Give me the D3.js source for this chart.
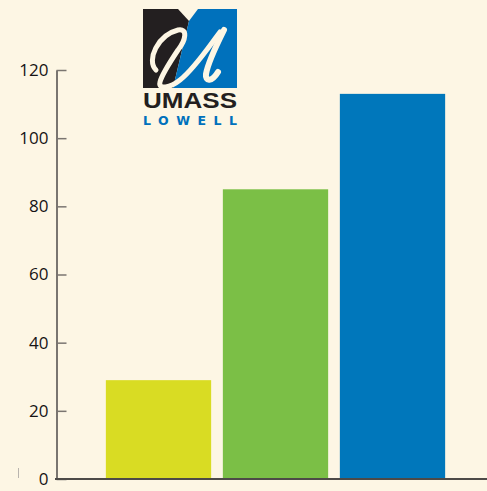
<!DOCTYPE html>
<html>
<head>
<meta charset="utf-8">
<script src="https://cdn.jsdelivr.net/npm/d3@7"></script>
<style>
  html, body { margin: 0; padding: 0; background: #fdf6e4; }
  svg { display: block; }
</style>
</head>
<body>
<script>
// chart values
const categories = ['A', 'B', 'C']
const values = [29, 85, 113]
const barColors = ['#d9dc23', '#7bbf46', '#0077bb']
const yTicks = [0, 20, 40, 60, 80, 100, 120]

const W = 487, H = 491
const svg = d3.select('body').append('svg')
  .attr('width', W)
  .attr('height', H)
  .style('background', '#fdf6e4')

const y = d3.scaleLinear().domain([0, 120]).range([479, 70])
const x = d3.scaleBand().domain(categories).range([100, 451])
  .paddingInner(0.1).paddingOuter(0.05)

// bars
svg.selectAll('rect.bar')
  .data(values)
  .enter()
  .append('rect')
  .attr('class', 'bar')
  .attr('x', (d, i) => x(categories[i]))
  .attr('y', d => y(d))
  .attr('width', x.bandwidth())
  .attr('height', d => y(0) - y(d))
  .attr('fill', (d, i) => barColors[i])

// y axis, ticks pointing into the plot
const yAxis = svg.append('g')
  .attr('transform', 'translate(56.5,0)')
  .call(d3.axisLeft(y).tickValues(yTicks).tickSizeInner(-10).tickSizeOuter(0).tickPadding(8))
yAxis.select('.domain').attr('stroke', '#7a7570').attr('stroke-width', 2)
yAxis.selectAll('.tick line').attr('stroke', '#7a7570').attr('stroke-width', 1.5)
yAxis.selectAll('.tick text')
  .attr('fill', '#161314')
  .style('font-family', '"Open Sans", sans-serif')
  .style('font-size', '17px')

// baseline
svg.append('line')
  .attr('x1', 55).attr('x2', W)
  .attr('y1', y(0)).attr('y2', y(0))
  .attr('stroke', '#4d4a47').attr('stroke-width', 2)

// small stray mark at lower left
svg.append('line')
  .attr('x1', 18.5).attr('x2', 18.5)
  .attr('y1', 468).attr('y2', 478)
  .attr('stroke', '#b9b4ae').attr('stroke-width', 1)

// UMass Lowell logo
const logo = svg.append('g')
logo.append('path')
  .attr('d', 'M143,9 L178,9 L189,21 L173,88 L143,88 Z')
  .attr('fill', '#231f20')
logo.append('path')
  .attr('d', 'M198,9 L237,9 L237,88 L173,88 L189,21 Z')
  .attr('fill', '#0071bc')
// white script "U"
logo.append('path')
  .attr('d', 'M156,70 C146,60 158,35 178,30 C188,28 186,40 178,50 C170,62 162,74 160,82 C158,90 170,88 180,80 C195,68 210,45 220,32')
  .attr('fill', 'none')
  .attr('stroke', '#fdf6e4')
  .attr('stroke-width', 5)
  .attr('stroke-linecap', 'round')
logo.append('path')
  .attr('d', 'M224,30 C216,46 208,62 206,74 C205,82 212,82 218,72')
  .attr('fill', 'none')
  .attr('stroke', '#fdf6e4')
  .attr('stroke-width', 6)
  .attr('stroke-linecap', 'round')
logo.append('text')
  .attr('x', 143).attr('y', 108)
  .attr('textLength', 94).attr('lengthAdjust', 'spacingAndGlyphs')
  .style('font-family', '"Liberation Sans Narrow", "Liberation Sans", sans-serif')
  .style('font-weight', 'bold')
  .style('font-size', '22px')
  .attr('fill', '#231f20')
  .text('UMASS')
logo.append('text')
  .attr('x', 143).attr('y', 125)
  .attr('textLength', 94).attr('lengthAdjust', 'spacing')
  .style('font-family', '"DejaVu Sans", sans-serif')
  .style('font-weight', 'bold')
  .style('font-size', '12.5px')
  .attr('fill', '#0071bc')
  .text('LOWELL')
</script>
</body>
</html>
